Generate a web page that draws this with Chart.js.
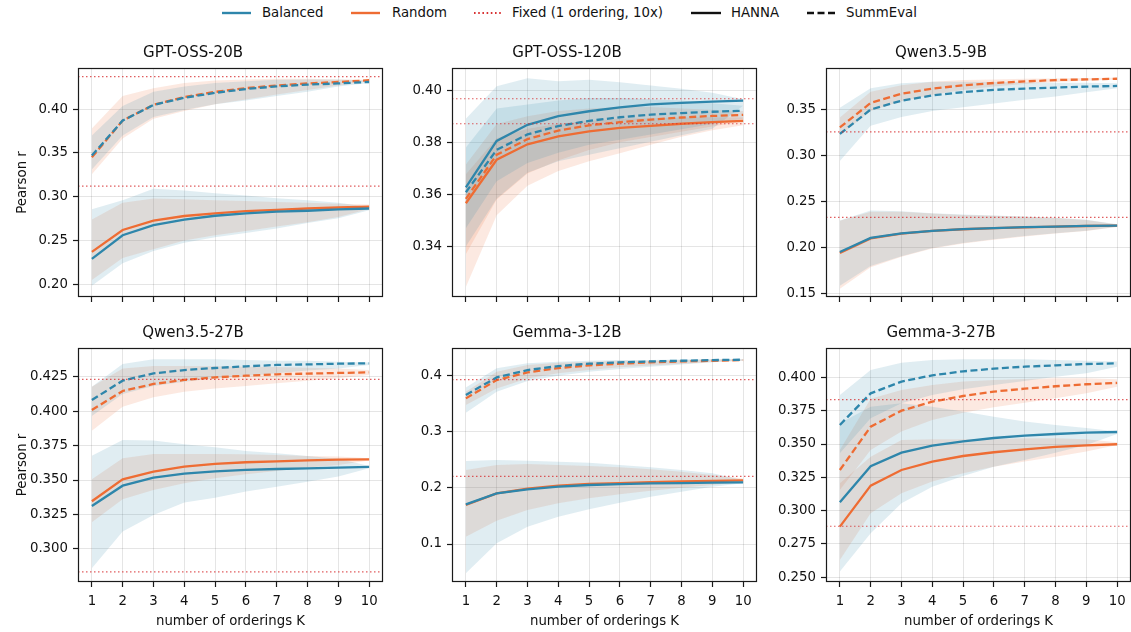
<!DOCTYPE html>
<html><head><meta charset="utf-8">
<script src="https://cdn.jsdelivr.net/npm/chart.js@4.4.1/dist/chart.umd.min.js"></script>
<style>
html,body{margin:0;padding:0;width:1131px;height:632px;overflow:hidden;background:#fff;font-family:"DejaVu Sans",sans-serif;}
canvas{position:absolute;}
.lt{position:absolute;top:5px;font-size:13.3px;line-height:16px;color:#111;white-space:nowrap;}
svg{position:absolute;top:11px;}
</style></head><body>
<div id="legend"></div>
<script>
// ---------- data ----------
const K = [1,2,3,4,5,6,7,8,9,10];
const TITLES = ['GPT-OSS-20B','GPT-OSS-120B','Qwen3.5-9B','Qwen3.5-27B','Gemma-3-12B','Gemma-3-27B'];
const LEGEND_LABELS = ['Balanced','Random','Fixed (1 ordering, 10x)','HANNA','SummEval'];
const X_LABEL = 'number of orderings K';
const Y_LABEL = 'Pearson r';

// GPT-OSS-20B
const g20_balHanna   = [0.229,0.256,0.2675,0.274,0.2783,0.281,0.283,0.284,0.2855,0.2866];
const g20_balHannaLo = [0.1984,0.224,0.238,0.2475,0.2538,0.2586,0.2638,0.27,0.2754,0.2847];
const g20_balHannaHi = [0.2858,0.296,0.309,0.307,0.304,0.3014,0.2984,0.296,0.293,0.2884];
const g20_rndHanna   = [0.237,0.262,0.2727,0.278,0.281,0.2836,0.285,0.2866,0.2877,0.2888];
const g20_rndHannaLo = [0.205,0.23,0.24,0.25,0.256,0.261,0.266,0.271,0.277,0.286];
const g20_rndHannaHi = [0.274,0.293,0.298,0.297,0.296,0.295,0.294,0.293,0.292,0.291];
const g20_balSumm    = [0.347,0.387,0.4048,0.413,0.4186,0.423,0.426,0.428,0.4294,0.431];
const g20_balSummLo  = [0.331,0.37,0.391,0.399,0.4056,0.41,0.415,0.42,0.426,0.43];
const g20_balSummHi  = [0.37,0.4037,0.42,0.426,0.43,0.432,0.4335,0.434,0.434,0.4327];
const g20_rndSumm    = [0.345,0.387,0.405,0.4138,0.4197,0.424,0.427,0.4294,0.431,0.433];
const g20_rndSummLo  = [0.3256,0.3665,0.389,0.398,0.4056,0.411,0.4167,0.422,0.427,0.4324];
const g20_rndSummHi  = [0.378,0.415,0.424,0.43,0.4327,0.434,0.4346,0.4346,0.434,0.4335];

// GPT-OSS-120B
const g120_balHanna   = [0.3627,0.3805,0.3867,0.39,0.3919,0.3934,0.3945,0.3951,0.3956,0.396];
const g120_balHannaLo = [0.34,0.3583,0.3683,0.3727,0.3752,0.3777,0.3802,0.3827,0.3852,0.394];
const g120_balHannaHi = [0.389,0.4015,0.4046,0.4034,0.404,0.403,0.4018,0.4005,0.399,0.3965];
const g120_rndHanna   = [0.3566,0.3733,0.3792,0.3823,0.3842,0.3855,0.3863,0.3871,0.3877,0.3882];
const g120_rndHannaLo = [0.3244,0.352,0.3633,0.369,0.3727,0.3758,0.379,0.3821,0.3846,0.3865];
const g120_rndHannaHi = [0.3677,0.3815,0.3852,0.3871,0.3883,0.389,0.3892,0.3895,0.3896,0.3896];
const g120_balSumm    = [0.3608,0.3771,0.383,0.3862,0.3882,0.3896,0.3906,0.3912,0.3917,0.3921];
const g120_balSummLo  = [0.347,0.365,0.372,0.376,0.379,0.381,0.383,0.385,0.387,0.389];
const g120_balSummHi  = [0.378,0.393,0.3945,0.396,0.397,0.397,0.3965,0.396,0.395,0.394];
const g120_rndSumm    = [0.3583,0.3752,0.3812,0.3845,0.3865,0.3877,0.3887,0.3895,0.3901,0.3905];
const g120_rndSummLo  = [0.337,0.358,0.368,0.373,0.377,0.38,0.382,0.384,0.386,0.388];
const g120_rndSummHi  = [0.3715,0.387,0.39,0.392,0.393,0.3935,0.3935,0.393,0.3925,0.392];

// Qwen3.5-9B
const q9_balHanna   = [0.1947,0.21,0.2149,0.2177,0.2195,0.2206,0.2216,0.2223,0.223,0.2234];
const q9_balHannaLo = [0.158,0.1794,0.19,0.199,0.2043,0.2085,0.212,0.215,0.2177,0.222];
const q9_balHannaHi = [0.229,0.2397,0.239,0.2369,0.2355,0.2344,0.2333,0.2319,0.2298,0.2248];
const q9_rndHanna   = [0.1936,0.2095,0.2147,0.2176,0.2194,0.2206,0.2215,0.2222,0.2229,0.2234];
const q9_rndHannaLo = [0.1546,0.178,0.1895,0.1985,0.204,0.208,0.2115,0.2148,0.2175,0.2218];
const q9_rndHannaHi = [0.2285,0.2385,0.2385,0.2365,0.235,0.234,0.233,0.2315,0.2295,0.2245];
const q9_balSumm    = [0.323,0.3496,0.3592,0.3649,0.3684,0.3709,0.3723,0.3734,0.3745,0.3752];
const q9_balSummLo  = [0.2936,0.3319,0.3415,0.3479,0.352,0.356,0.3603,0.3638,0.3684,0.3727];
const q9_balSummHi  = [0.3514,0.3727,0.378,0.3798,0.3798,0.3795,0.3791,0.3787,0.3787,0.378];
const q9_rndSumm    = [0.3301,0.3567,0.3667,0.3723,0.3759,0.3784,0.3801,0.3816,0.3823,0.383];
const q9_rndSummLo  = [0.3213,0.348,0.3585,0.3656,0.3709,0.3745,0.3773,0.3794,0.3809,0.3823];
const q9_rndSummHi  = [0.3408,0.369,0.376,0.3798,0.3816,0.3823,0.383,0.3833,0.3837,0.384];

// Qwen3.5-27B
const q27_balHanna   = [0.3312,0.3459,0.3517,0.3546,0.3563,0.3573,0.358,0.3585,0.359,0.3595];
const q27_balHannaLo = [0.286,0.3126,0.3247,0.3336,0.3372,0.3416,0.3452,0.3488,0.3525,0.3585];
const q27_balHannaHi = [0.3677,0.379,0.3786,0.3759,0.3737,0.3711,0.3694,0.3675,0.3655,0.3602];
const q27_rndHanna   = [0.3346,0.3505,0.3561,0.3597,0.3617,0.3629,0.3636,0.3643,0.3648,0.365];
const q27_rndHannaLo = [0.3193,0.336,0.3428,0.3476,0.3513,0.3542,0.3566,0.359,0.3609,0.3641];
const q27_rndHannaHi = [0.3505,0.3658,0.3689,0.3689,0.3689,0.3687,0.3682,0.3675,0.367,0.3658];
const q27_balSumm    = [0.4081,0.4221,0.4274,0.4298,0.4313,0.4325,0.4335,0.4339,0.4344,0.4347];
const q27_balSummLo  = [0.3965,0.4124,0.4182,0.4214,0.4238,0.4255,0.4274,0.4294,0.431,0.4335];
const q27_balSummHi  = [0.4177,0.4342,0.4376,0.4376,0.4376,0.4371,0.4366,0.4366,0.4359,0.4352];
const q27_rndSumm    = [0.4008,0.4146,0.4197,0.4226,0.4245,0.4257,0.4267,0.4272,0.4277,0.4281];
const q27_rndSummLo  = [0.3858,0.4032,0.41,0.4141,0.4165,0.4182,0.4202,0.4221,0.4238,0.4262];
const q27_rndSummHi  = [0.4177,0.431,0.4327,0.4327,0.4325,0.4322,0.432,0.4315,0.431,0.4298];

// Gemma-3-12B
const ge12_balHanna   = [0.1707,0.1903,0.1974,0.2022,0.2052,0.2069,0.2081,0.2087,0.2093,0.2099];
const ge12_balHannaLo = [0.0478,0.1012,0.1309,0.1487,0.1618,0.1737,0.1844,0.1933,0.2022,0.2081];
const ge12_balHannaHi = [0.2479,0.2497,0.2485,0.2467,0.245,0.2408,0.2367,0.2319,0.226,0.2141];
const ge12_rndHanna   = [0.1695,0.1903,0.1986,0.204,0.207,0.2087,0.2105,0.2117,0.2123,0.2135];
const ge12_rndHannaLo = [0.1131,0.1416,0.1606,0.1725,0.1814,0.1885,0.1951,0.2004,0.2052,0.2111];
const ge12_rndHannaHi = [0.2319,0.2408,0.2426,0.2408,0.239,0.2367,0.2331,0.229,0.223,0.217];
const ge12_balSumm    = [0.3655,0.397,0.4101,0.4172,0.4214,0.4238,0.4255,0.4267,0.4279,0.4285];
const ge12_balSummLo  = [0.3341,0.3715,0.3905,0.4,0.4071,0.4119,0.416,0.4202,0.4238,0.4267];
const ge12_balSummHi  = [0.3792,0.4131,0.422,0.4249,0.4267,0.4279,0.4279,0.4291,0.4297,0.4297];
const ge12_rndSumm    = [0.3596,0.3923,0.4059,0.4137,0.4184,0.4214,0.4238,0.4255,0.4267,0.4279];
const ge12_rndSummLo  = [0.3477,0.3774,0.3952,0.4042,0.4101,0.4149,0.4184,0.4214,0.4244,0.4267];
const ge12_rndSummHi  = [0.3715,0.4071,0.419,0.4232,0.4249,0.4267,0.4267,0.4279,0.4285,0.4291];

// Gemma-3-27B
const ge27_balHanna   = [0.3063,0.3333,0.3435,0.3488,0.352,0.3545,0.3563,0.3575,0.3585,0.359];
const ge27_balHannaLo = [0.2543,0.283,0.3055,0.318,0.326,0.333,0.338,0.3435,0.3493,0.3575];
const ge27_balHannaHi = [0.3655,0.378,0.3805,0.378,0.3743,0.3705,0.3668,0.3643,0.362,0.3593];
const ge27_rndHanna   = [0.288,0.3188,0.3305,0.3368,0.341,0.3438,0.346,0.3478,0.349,0.3498];
const ge27_rndHannaLo = [0.263,0.298,0.313,0.3218,0.328,0.333,0.3368,0.3405,0.3443,0.3493];
const ge27_rndHannaHi = [0.3205,0.3405,0.353,0.3535,0.3535,0.3535,0.3543,0.3543,0.3535,0.3513];
const ge27_balSumm    = [0.3643,0.388,0.3968,0.4015,0.4045,0.4065,0.408,0.409,0.41,0.4105];
const ge27_balSummLo  = [0.343,0.3693,0.3805,0.3868,0.391,0.3943,0.3973,0.4005,0.403,0.408];
const ge27_balSummHi  = [0.3868,0.4055,0.411,0.413,0.4135,0.4135,0.4135,0.413,0.4125,0.4118];
const ge27_rndSumm    = [0.3305,0.363,0.375,0.3818,0.386,0.3893,0.3915,0.3933,0.3948,0.3958];
const ge27_rndSummLo  = [0.3155,0.3455,0.3593,0.368,0.3735,0.3775,0.381,0.3843,0.388,0.393];
const ge27_rndSummHi  = [0.3455,0.384,0.3905,0.3943,0.3968,0.398,0.3988,0.3993,0.3993,0.3985];

const FIXED_HANNA = [0.3122,0.3967,0.2323,0.2833,0.2206,0.2883];
const FIXED_SUMM  = [0.4372,0.3871,0.3252,0.4231,0.3929,0.3833];

const Y_TICKS = [
  [0.20,0.25,0.30,0.35,0.40],
  [0.34,0.36,0.38,0.40],
  [0.15,0.20,0.25,0.30,0.35],
  [0.300,0.325,0.350,0.375,0.400,0.425],
  [0.1,0.2,0.3,0.4],
  [0.250,0.275,0.300,0.325,0.350,0.375,0.400]
];
const Y_DEC = [2,2,2,3,1,3];

// ---------- layout / style ----------
const Y_RANGE = [[0.1855,0.447],[0.3206,0.4085],[0.1457,0.3947],[0.276,0.4458],[0.0323,0.4494],[0.2465,0.422]];
const COL_LEFT = [78,452,826];
const ROW_TOP = [68,348];
const AREA_W = 305, AREA_H = 234, YAXIS_W = 75, TITLE_H = 32;
const BLUE = '#2E86AB', ORANGE = '#EE6C33';
const BLUE_FILL = 'rgba(46,134,171,0.15)', ORANGE_FILL = 'rgba(238,108,51,0.15)';
const FIXED_COLOR = 'rgba(214,39,40,0.75)';
const FONT = 'DejaVu Sans';
const TXT = '#111';
const GRID = 'rgba(0,0,0,0.1)';
const LW = 2.3;

Chart.defaults.font.family = FONT;

const PANELS = [
  {bal:[g20_balHanna,g20_balHannaLo,g20_balHannaHi], rnd:[g20_rndHanna,g20_rndHannaLo,g20_rndHannaHi], balS:[g20_balSumm,g20_balSummLo,g20_balSummHi], rndS:[g20_rndSumm,g20_rndSummLo,g20_rndSummHi]},
  {bal:[g120_balHanna,g120_balHannaLo,g120_balHannaHi], rnd:[g120_rndHanna,g120_rndHannaLo,g120_rndHannaHi], balS:[g120_balSumm,g120_balSummLo,g120_balSummHi], rndS:[g120_rndSumm,g120_rndSummLo,g120_rndSummHi]},
  {bal:[q9_balHanna,q9_balHannaLo,q9_balHannaHi], rnd:[q9_rndHanna,q9_rndHannaLo,q9_rndHannaHi], balS:[q9_balSumm,q9_balSummLo,q9_balSummHi], rndS:[q9_rndSumm,q9_rndSummLo,q9_rndSummHi]},
  {bal:[q27_balHanna,q27_balHannaLo,q27_balHannaHi], rnd:[q27_rndHanna,q27_rndHannaLo,q27_rndHannaHi], balS:[q27_balSumm,q27_balSummLo,q27_balSummHi], rndS:[q27_rndSumm,q27_rndSummLo,q27_rndSummHi]},
  {bal:[ge12_balHanna,ge12_balHannaLo,ge12_balHannaHi], rnd:[ge12_rndHanna,ge12_rndHannaLo,ge12_rndHannaHi], balS:[ge12_balSumm,ge12_balSummLo,ge12_balSummHi], rndS:[ge12_rndSumm,ge12_rndSummLo,ge12_rndSummHi]},
  {bal:[ge27_balHanna,ge27_balHannaLo,ge27_balHannaHi], rnd:[ge27_rndHanna,ge27_rndHannaLo,ge27_rndHannaHi], balS:[ge27_balSumm,ge27_balSummLo,ge27_balSummHi], rndS:[ge27_rndSumm,ge27_rndSummLo,ge27_rndSummHi]}
];

const pts = arr => arr.map((v,i)=>({x:K[i], y:v}));

function lineDs(arr, color, dashed){
  return {data:pts(arr), borderColor:color, borderWidth:LW, pointRadius:0, fill:false,
          borderDash: dashed ? [7,3.5] : [], tension:0, borderCapStyle:'butt'};
}
function bandDs(lo, hi, fillColor){
  return [
    {data:pts(hi), borderWidth:0, borderColor:'rgba(0,0,0,0)', pointRadius:0, fill:false},
    {data:pts(lo), borderWidth:0, borderColor:'rgba(0,0,0,0)', pointRadius:0, fill:'-1', backgroundColor:fillColor}
  ];
}

const framePlugin = {
  id:'frame',
  afterDraw(chart){
    const a = chart.chartArea, c = chart.ctx;
    c.save(); c.strokeStyle = '#1a1a1a'; c.lineWidth = 1.2;
    c.strokeRect(Math.round(a.left)+0.5, Math.round(a.top)+0.5, Math.round(a.right-a.left)-1, Math.round(a.bottom-a.top)-1);
    c.restore();
  }
};

function makeFixedPlugin(values){
  return {
    id:'fixedLines',
    afterDatasetsDraw(chart){
      const a = chart.chartArea, c = chart.ctx, ys = chart.scales.y;
      c.save();
      c.beginPath(); c.rect(a.left, a.top, a.right-a.left, a.bottom-a.top); c.clip();
      c.strokeStyle = FIXED_COLOR; c.lineWidth = 1.2; c.setLineDash([1.5,2.5]);
      values.forEach(v=>{
        const y = ys.getPixelForValue(v);
        c.beginPath(); c.moveTo(a.left, y); c.lineTo(a.right, y); c.stroke();
      });
      c.restore();
    }
  };
}

PANELS.forEach((p, idx)=>{
  const row = Math.floor(idx/3), col = idx%3;
  const bottomRow = row === 1, firstCol = col === 0;
  const xh = bottomRow ? 50 : 8;
  const cv = document.createElement('canvas');
  const W = YAXIS_W + AREA_W + 3, H = TITLE_H + AREA_H + xh;
  cv.width = W; cv.height = H;
  cv.style.left = (COL_LEFT[col]-YAXIS_W)+'px';
  cv.style.top = (ROW_TOP[row]-TITLE_H)+'px';
  cv.style.width = W+'px'; cv.style.height = H+'px';
  document.body.appendChild(cv);

  const datasets = [
    lineDs(p.bal[0], BLUE, false),
    lineDs(p.balS[0], BLUE, true),
    lineDs(p.rnd[0], ORANGE, false),
    lineDs(p.rndS[0], ORANGE, true),
    ...bandDs(p.bal[1], p.bal[2], BLUE_FILL),
    ...bandDs(p.balS[1], p.balS[2], BLUE_FILL),
    ...bandDs(p.rnd[1], p.rnd[2], ORANGE_FILL),
    ...bandDs(p.rndS[1], p.rndS[2], ORANGE_FILL)
  ];
  const yt = Y_TICKS[idx], dec = Y_DEC[idx];
  new Chart(cv, {
    type:'line',
    data:{datasets},
    options:{
      responsive:false, animation:false, devicePixelRatio:1,
      layout:{padding:{left:0,right:3,top:0,bottom:0}},
      events:[],
      plugins:{
        legend:{display:false}, tooltip:{enabled:false},
        filler:{drawTime:'beforeDatasetsDraw'},
        title:{display:true, text:TITLES[idx], color:TXT, font:{family:FONT,size:15,weight:'normal',lineHeight:1.2}, padding:{top:8,bottom:6}}
      },
      scales:{
        x:{
          type:'linear', min:0.55, max:10.45,
          afterBuildTicks:s=>{ s.ticks = K.map(v=>({value:v})); },
          afterFit:s=>{ s.height = xh; },
          border:{display:false},
          grid:{color:GRID, lineWidth:1, drawTicks:true, tickLength:5, tickColor:'#1a1a1a', tickWidth:1.2},
          ticks:{display:bottomRow, color:TXT, font:{family:FONT,size:13.3}, padding:6.5, maxRotation:0, autoSkip:false, callback:v=>String(v)},
          title:{display:bottomRow, text:X_LABEL, color:TXT, font:{family:FONT,size:13.3,lineHeight:1.2}, padding:{top:0,bottom:2.3}}
        },
        y:{
          type:'linear', min:Y_RANGE[idx][0], max:Y_RANGE[idx][1],
          afterBuildTicks:s=>{ s.ticks = yt.map(v=>({value:v})); },
          afterFit:s=>{ s.width = YAXIS_W; },
          border:{display:false},
          grid:{color:GRID, lineWidth:1, drawTicks:true, tickLength:5, tickColor:'#1a1a1a', tickWidth:1.2},
          ticks:{color:TXT, font:{family:FONT,size:13.3}, padding:5, autoSkip:false, callback:v=>Number(v).toFixed(dec)},
          title:{display:firstCol, text:Y_LABEL, color:TXT, font:{family:FONT,size:13.3,lineHeight:1.2}, padding:{top:11.3,bottom:0}}
        }
      }
    },
    plugins:[framePlugin, makeFixedPlugin([FIXED_HANNA[idx], FIXED_SUMM[idx]])]
  });
});

// ---------- legend (HTML) ----------
const LEG_X = [[222,251,262],[351,380,392],[474,502,512],[691,721,731],[807,836,846]];
const LEG_STYLE = [
  {c:BLUE, d:'', w:2.4}, {c:ORANGE, d:'', w:2.4}, {c:'rgba(214,39,40,0.95)', d:'1.6,2.6', w:2}, {c:'#111', d:'', w:2.4}, {c:'#111', d:'7,3.5', w:2.4}
];
const leg = document.getElementById('legend');
LEGEND_LABELS.forEach((lab,i)=>{
  const [x0,x1,tx] = LEG_X[i], st = LEG_STYLE[i];
  const w = x1-x0;
  leg.insertAdjacentHTML('beforeend',
    `<svg style="left:${x0}px" width="${w}" height="4"><line x1="0" y1="2" x2="${w}" y2="2" stroke="${st.c}" stroke-width="${st.w}" ${st.d?`stroke-dasharray="${st.d}"`:''}/></svg>`+
    `<span class="lt" style="left:${tx}px">${lab}</span>`);
});
</script>
</body></html>
